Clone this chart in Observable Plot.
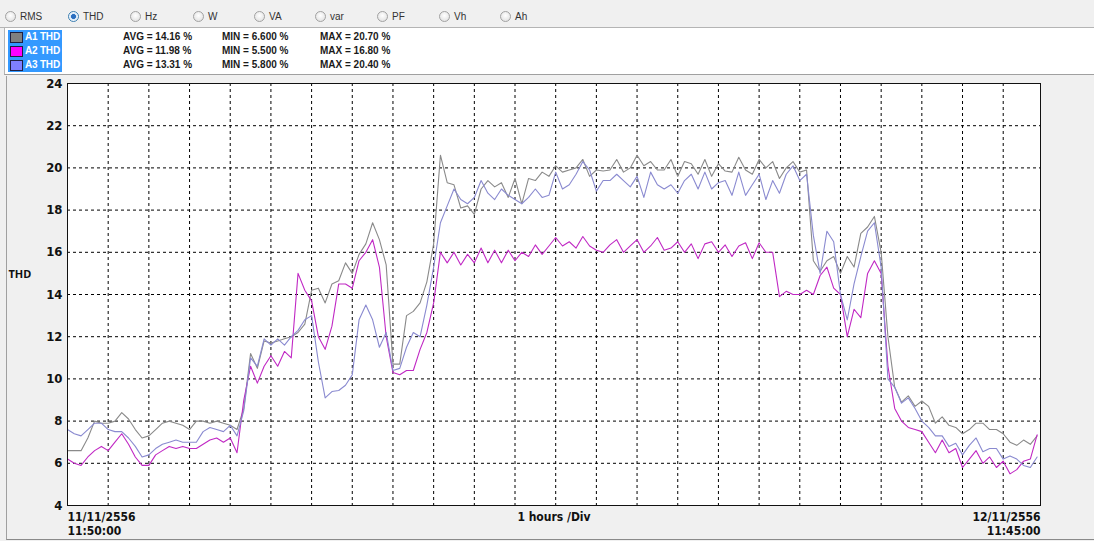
<!DOCTYPE html>
<html>
<head>
<meta charset="utf-8">
<script src="https://cdn.jsdelivr.net/npm/d3@7"></script>
<script src="https://cdn.jsdelivr.net/npm/@observablehq/plot@0.6"></script>
<style>
  html, body { margin: 0; padding: 0; background: #f0f0f0; width: 1094px; height: 541px; overflow: hidden;
    font-family: "Liberation Sans", "DejaVu Sans", sans-serif; }
  #radios { position: absolute; left: 0; top: 0; width: 1094px; height: 27px; background: #f0f0f0; border-bottom: 1px solid #b4b4b4; }
  .radio { position: absolute; top: 11px; height: 11px; font-size: 10px; line-height: 11px; color: #333; white-space: nowrap; }
  .radio .dot { position: absolute; left: 0; top: 0; width: 11px; height: 11px; box-sizing: border-box; border-radius: 50%;
    border: 1px solid #a2a2a2; background: radial-gradient(circle at 50% 40%, #ffffff, #dcdcdc); }
  .radio.sel .dot { border-color: #3c7fb1; background: radial-gradient(circle, #2a6fc0 0 2.2px, #cfe4f7 2.6px, #eef5fc 4px); }
  .radio .lbl { position: absolute; left: 15px; top: 0; }
  #legend { position: absolute; left: 4px; top: 28px; width: 1090px; height: 46px; background: #fff;
    border-left: 1px solid #b4b4b4; border-bottom: 1px solid #a0a0a0; }
  #hl { position: absolute; left: 3px; top: 2px; width: 54px; height: 42px; background: #3399ff; }
  .row { position: absolute; left: 0; height: 14px; font-size: 10px; font-weight: bold; line-height: 14px; color: #1a1a1a; white-space: nowrap; }
  .sw { position: absolute; left: 5px; top: 2px; width: 11px; height: 9px; border: 1px solid #202040; }
  .nm { position: absolute; left: 20px; top: 0; color: #fff; letter-spacing: -0.2px; }
  .st { position: absolute; top: 0; }
  #chart { position: absolute; left: 0; top: 76px; }
  #panel { position: absolute; left: 6px; top: 76px; width: 1088px; height: 463px; border-left: 1px solid #a0a0a0; border-bottom: 1px solid #8a8a8a; pointer-events: none; }
</style>
</head>
<body>
<div id="radios"></div>
<div id="legend"><div id="hl"></div></div>
<div id="chart"></div>
<div id="panel"></div>
<script>
// ---- data ----
const radioLabels = ["RMS", "THD", "Hz", "W", "VA", "var", "PF", "Vh", "Ah"];
const selectedRadio = "THD";

const seriesNames = ["A1 THD", "A2 THD", "A3 THD"];
const swatchColors = ["#808080", "#ff00ff", "#8080ff"];
const lineColors = ["#8a8a8a", "#c028c4", "#8a8ad0"];
const avgText = ["AVG = 14.16 %", "AVG = 11.98 %", "AVG = 13.31 %"];
const minText = ["MIN = 6.600 %", "MIN = 5.500 %", "MIN = 5.800 %"];
const maxText = ["MAX = 20.70 %", "MAX = 16.80 %", "MAX = 20.40 %"];

const yTicks = [4, 6, 8, 10, 12, 14, 16, 18, 20, 22, 24];
const yLabel = "THD";
const xDivLabel = "1 hours /Div";
const xStartLabel = ["11/11/2556", "11:50:00"];
const xEndLabel = ["12/11/2556", "11:45:00"];

const startTime = Date.UTC(2013, 10, 11, 11, 50);      // 11/11/2556 11:50:00
const endTime = Date.UTC(2013, 10, 12, 11, 45);        // 12/11/2556 11:45:00
const stepMinutes = 10;

// THD (%) every 10 minutes from 11:50
const a1Thd = [
  6.6, 6.6, 6.6, 7.2, 8.0, 7.9, 7.9, 8.0, 8.4, 8.1, 7.6, 7.2, 7.3, 7.6, 7.9, 8.0, 7.9, 7.8, 7.6, 8.0, 8.0, 7.9, 8.0, 7.9, 7.8, 7.6,
  8.6, 11.2, 10.5, 11.8, 11.7, 11.8, 11.9, 12.0, 12.2, 12.6, 14.2, 14.3, 13.6, 14.5, 14.65, 15.5, 15.0, 15.9, 16.4, 17.4, 16.6, 15.4, 10.7, 10.7, 13.0, 13.2, 13.6, 14.6, 16.4,
  20.6, 19.3, 19.2, 18.1, 18.2, 17.8, 19.0, 19.4, 19.1, 19.3, 18.6, 19.5, 18.3, 19.5, 19.4, 19.8, 19.6, 20.1, 19.8, 19.9, 20.0, 20.4, 19.6, 19.9, 19.85, 19.9, 20.4, 19.8, 20.0,
  20.6, 20.1, 20.3, 19.9, 19.9, 20.4, 19.6, 20.3, 20.2, 19.7, 20.4, 19.6, 20.2, 19.85, 19.8, 20.5, 19.9, 19.7, 20.4, 20.0, 20.3,
  19.5, 20.0, 20.3, 19.8, 19.9, 15.6, 15.1, 15.6, 15.8, 15.0,
  15.8, 15.3, 16.9, 17.2, 17.7, 16.0, 12.0, 9.6,
  8.9, 9.2, 8.7, 8.95, 8.7, 7.9, 8.2, 7.8, 7.7, 7.4, 7.6, 7.9, 7.9, 7.6, 7.6, 7.4, 7.0, 6.85, 7.1, 6.9, 7.3
];
const a2Thd = [
  6.2, 6.0, 5.9, 6.3, 6.6, 6.8, 6.6, 7.0, 7.4, 6.9, 6.3, 5.9, 5.9, 6.4, 6.6, 6.8, 6.7, 6.8, 6.7, 6.7, 6.9, 7.1, 7.2, 7.0, 7.2, 6.5,
  9.0, 10.6, 9.8, 10.6, 11.1, 10.6, 11.3, 11.0, 15.0, 14.2, 13.7, 12.0, 11.4, 12.5, 14.5, 14.5, 14.3, 15.6, 16.0, 16.6, 15.3, 12.0, 10.3, 10.2, 10.4, 10.4, 11.4, 12.2, 13.6,
  16.0, 15.5, 16.0, 15.4, 15.9, 15.5, 16.2, 15.5, 16.1, 15.5, 16.1, 15.6, 16.0, 15.8, 16.35, 15.9, 16.3, 16.7, 16.3, 16.5, 16.2, 16.75, 16.3, 16.1, 16.0, 16.35, 16.6, 16.0, 16.3,
  16.6, 16.0, 16.3, 16.7, 16.1, 16.2, 16.5, 16.0, 16.4, 15.7, 16.4, 16.5, 16.0, 16.35, 15.8, 16.3, 16.45, 15.7, 16.45, 16.0, 16.0,
  13.9, 14.15, 14.0, 14.0, 14.2, 14.0, 14.9, 15.3, 14.3, 14.0,
  12.0, 13.3, 12.9, 15.0, 15.6, 15.0, 10.6, 8.6,
  8.0, 7.7, 7.6, 7.5, 7.0, 6.5, 7.1, 6.5, 6.7, 5.8, 6.2, 6.6, 6.0, 6.3, 5.8, 6.1, 5.5, 5.7, 6.1, 6.2, 7.35
];
const a3Thd = [
  7.6, 7.4, 7.3, 7.6, 7.9, 7.9, 7.6, 7.5, 7.5, 7.2, 6.8, 6.3, 6.4, 6.7, 6.9, 7.0, 7.1, 7.0, 7.0, 7.0, 7.5, 7.7, 7.6, 7.5, 7.8, 7.3,
  8.5, 11.0, 10.6, 11.9, 11.6, 11.9, 11.6, 12.0, 12.3, 12.8, 13.0, 10.8, 9.1, 9.4, 9.45, 9.7, 10.2, 12.8, 13.5, 12.8, 11.5, 12.2, 10.4, 10.5, 11.5, 12.2, 12.0, 13.5, 15.3,
  17.4, 18.2, 19.0, 18.5, 18.3, 18.6, 19.4, 18.8, 18.5, 19.0, 18.7, 18.5, 18.3, 18.6, 19.0, 18.6, 18.7, 19.8, 19.0, 19.2, 19.7, 20.3, 19.9, 18.9, 19.4, 19.4, 19.7, 19.4, 19.1,
  19.6, 18.6, 19.8, 19.2, 19.0, 19.2, 18.8, 19.4, 19.7, 19.0, 19.8, 19.0, 19.3, 19.4, 18.7, 19.8, 18.7, 19.2, 19.7, 18.5, 19.4,
  18.8, 19.7, 20.1, 19.4, 19.7, 16.8, 15.0, 17.0, 16.5, 14.0,
  12.8, 14.5, 15.8, 17.0, 17.4, 15.3, 10.0, 9.6,
  8.85, 9.1, 8.6, 8.0, 7.7, 7.3, 7.3, 6.8, 6.95, 6.4, 6.85, 7.2, 6.55, 6.7, 6.7, 6.2, 6.35, 6.2, 5.9, 5.8, 6.3
];
const seriesValues = [a1Thd, a2Thd, a3Thd];

// ---- header (radio bar + legend) ----
const radioX = [5, 68, 130, 193, 254, 315, 377, 439, 500];
const radios = document.getElementById("radios");
radioLabels.forEach((r, i) => {
  const el = document.createElement("div");
  el.className = "radio" + (r === selectedRadio ? " sel" : "");
  el.style.left = radioX[i] + "px";
  el.innerHTML = `<span class="dot"></span><span class="lbl">${r}</span>`;
  radios.appendChild(el);
});
const legend = document.getElementById("legend");
const statX = [118, 217, 315];
seriesNames.forEach((n, i) => {
  const row = document.createElement("div");
  row.className = "row";
  row.style.top = (2 + i * 14) + "px";
  row.style.width = "500px";
  row.innerHTML = `<span class="sw" style="background:${swatchColors[i]}"></span><span class="nm">${n}</span>` +
    `<span class="st" style="left:${statX[0]}px">${avgText[i]}</span>` +
    `<span class="st" style="left:${statX[1]}px">${minText[i]}</span>` +
    `<span class="st" style="left:${statX[2]}px">${maxText[i]}</span>`;
  legend.appendChild(row);
});

// ---- chart ----
const data = seriesNames.flatMap((name, k) =>
  seriesValues[k].map((v, i) => ({series: name, time: new Date(startTime + i * stepMinutes * 60000), value: v}))
);
const hourGrid = d3.range(1, 24).map(h => new Date(startTime + h * 3600000));
const tickFont = "'Liberation Sans Narrow', 'DejaVu Sans Condensed', 'Liberation Sans', sans-serif";

const chart = Plot.plot({
  width: 1094,
  height: 465,
  marginLeft: 67,
  marginRight: 54,
  marginTop: 7,
  marginBottom: 36,
  style: {background: "#f0f0f0", overflow: "visible"},
  x: {type: "utc", domain: [new Date(startTime), new Date(endTime)]},
  y: {domain: [4, 24]},
  color: {domain: seriesNames, range: lineColors},
  marks: [
    Plot.frame({fill: "white", stroke: null}),
    Plot.gridX({ticks: hourGrid, stroke: "#000", strokeOpacity: 1, strokeDasharray: "3,3"}),
    Plot.gridY({ticks: yTicks.slice(1, -1), stroke: "#000", strokeOpacity: 1, strokeDasharray: "3,3"}),
    Plot.line(data, {x: "time", y: "value", z: "series", stroke: "series", strokeWidth: 1.1}),
    Plot.frame({stroke: "#111", strokeWidth: 1}),
    Plot.axisY({ticks: yTicks, tickSize: 0, tickPadding: 5, label: null, fontWeight: "bold", fontSize: 13, fontFamily: tickFont, fill: "#111"}),
    Plot.axisX({ticks: [new Date(startTime)], tickSize: 0, tickPadding: 5, label: null, textAnchor: "start",
      tickFormat: () => xStartLabel.join("\n"), fontWeight: "bold", fontSize: 12, lineHeight: 1.2, fontFamily: tickFont, fill: "#111"}),
    Plot.axisX({ticks: [new Date(endTime)], tickSize: 0, tickPadding: 5, label: null, textAnchor: "end",
      tickFormat: () => xEndLabel.join("\n"), fontWeight: "bold", fontSize: 12, lineHeight: 1.2, fontFamily: tickFont, fill: "#111"}),
    Plot.text([xDivLabel], {frameAnchor: "bottom", dy: 15, fontWeight: "bold", fontSize: 12, fontFamily: tickFont, fill: "#111"}),
    Plot.text([yLabel], {frameAnchor: "top-left", dx: -59, dy: 187, textAnchor: "start", fontWeight: "bold", fontSize: 11, fill: "#111"})
  ]
});
document.getElementById("chart").appendChild(chart);
</script>
</body>
</html>
